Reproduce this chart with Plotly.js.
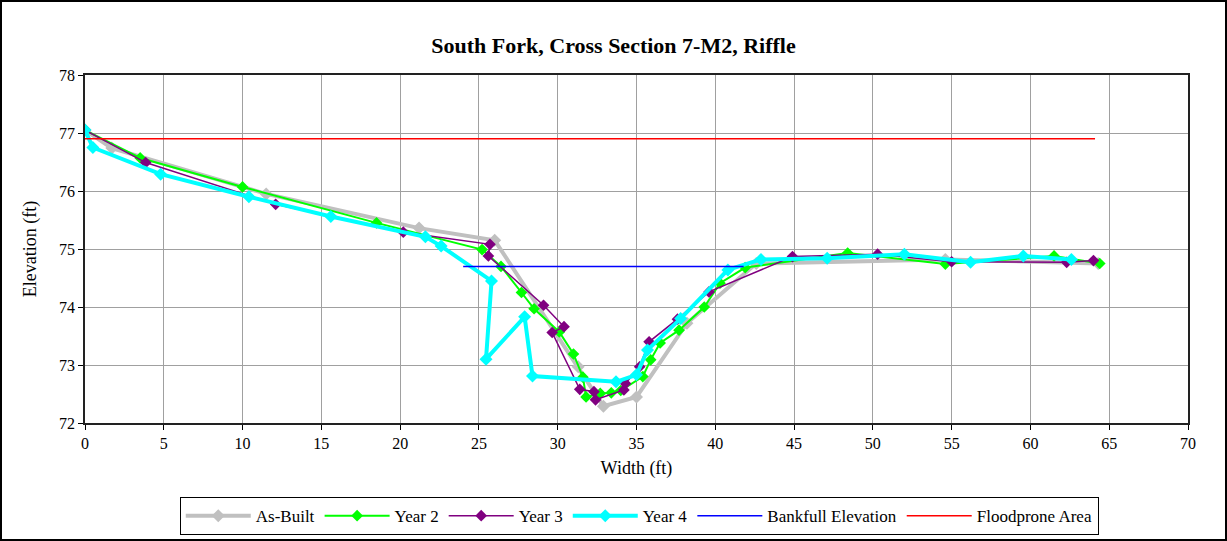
<!DOCTYPE html>
<html>
<head>
<meta charset="utf-8">
<script src="https://cdn.plot.ly/plotly-3.0.1.min.js"></script>
<style>
html,body{margin:0;padding:0;background:#fff;}
#chart{width:1227px;height:541px;outline:2px solid #000;outline-offset:-2px;}
</style>
</head>
<body>
<div id="chart"></div>
<script>
// Data
const asBuiltX = [0, 1.7, 11.5, 21.2, 26.0, 31.3, 32.9, 35.0, 38.2, 42.6, 54.6, 64.3];
const asBuiltY = [77.05, 76.74, 75.95, 75.36, 75.15, 72.97, 72.29, 72.45, 73.72, 74.75, 74.82, 74.75];

const year2X = [0, 3.5, 10.0, 18.5, 25.2, 26.4, 27.7, 28.5, 30.1, 31.0, 31.6, 31.8, 32.7, 33.4, 34.0, 35.4, 35.9, 36.5, 37.7, 39.3, 40.3, 41.9, 48.4, 54.6, 61.5, 64.4];
const year2Y = [77.05, 76.57, 76.07, 75.45, 74.99, 74.70, 74.25, 73.97, 73.57, 73.19, 72.79, 72.45, 72.51, 72.52, 72.56, 72.80, 73.09, 73.38, 73.60, 74.00, 74.41, 74.68, 74.93, 74.74, 74.88, 74.75];

const year3X = [0, 3.85, 12.1, 20.2, 25.7, 25.6, 29.1, 30.4, 29.65, 31.4, 32.3, 32.4, 34.2, 34.3, 35.2, 35.8, 37.6, 39.6, 44.9, 50.3, 55.0, 62.3, 64.0];
const year3Y = [77.05, 76.49, 75.77, 75.29, 75.08, 74.88, 74.03, 73.66, 73.56, 72.58, 72.54, 72.40, 72.57, 72.68, 72.97, 73.40, 73.79, 74.26, 74.87, 74.91, 74.78, 74.77, 74.80];

const year4X = [0, 0.5, 4.8, 10.4, 15.6, 21.6, 22.6, 25.8, 25.45, 27.9, 28.4, 33.7, 35.0, 35.7, 37.8, 40.8, 42.9, 47.1, 52.0, 56.2, 59.55, 62.6];
const year4Y = [77.05, 76.75, 76.29, 75.90, 75.56, 75.21, 75.05, 74.45, 73.10, 73.83, 72.81, 72.71, 72.83, 73.26, 73.80, 74.64, 74.82, 74.84, 74.91, 74.77, 74.88, 74.82];

const bankfullX = [24.0, 41.8];
const bankfullY = [74.7, 74.7];

const floodX = [0, 64.1];
const floodY = [76.9, 76.9];

const seriesNames = ["As-Built", "Year 2", "Year 3", "Year 4", "Bankfull Elevation", "Floodprone Area"];

const font = "'Liberation Serif', 'Times New Roman', serif";

const traces = [
  {x: asBuiltX, y: asBuiltY, name: seriesNames[0], mode: "lines+markers",
   line: {color: "#c0c0c0", width: 4}, marker: {symbol: "diamond", size: 10, color: "#c0c0c0"}},
  {x: year2X, y: year2Y, name: seriesNames[1], mode: "lines+markers",
   line: {color: "#00ff00", width: 2}, marker: {symbol: "diamond", size: 9, color: "#00ff00"}},
  {x: year3X, y: year3Y, name: seriesNames[2], mode: "lines+markers",
   line: {color: "#800080", width: 1.5}, marker: {symbol: "diamond", size: 9, color: "#800080"}},
  {x: year4X, y: year4Y, name: seriesNames[3], mode: "lines+markers",
   line: {color: "#00ffff", width: 4}, marker: {symbol: "diamond", size: 10, color: "#00ffff"}},
  {x: bankfullX, y: bankfullY, name: seriesNames[4], mode: "lines",
   line: {color: "#0000ff", width: 1.5}},
  {x: floodX, y: floodY, name: seriesNames[5], mode: "lines",
   line: {color: "#ff0000", width: 1.5}}
];

const layout = {
  width: 1227, height: 541,
  paper_bgcolor: "rgba(0,0,0,0)", plot_bgcolor: "#fff",
  margin: {l: 85, r: 39, t: 75, b: 118},
  font: {family: font, size: 16, color: "#000"},
  title: {text: "<b>South Fork, Cross Section 7-M2, Riffle</b>", font: {family: font, size: 22, color: "#000"},
          xref: "container", x: 0.5, xanchor: "center", yref: "container", y: 0.917, yanchor: "middle"},
  xaxis: {range: [0, 70], dtick: 5, tick0: 0, showgrid: true, gridcolor: "#a0a0a0", gridwidth: 1,
          zeroline: false, showline: true, linecolor: "#222", linewidth: 1.8, mirror: true,
          ticks: "outside", ticklen: 5, tickcolor: "#000", tickfont: {family: font, size: 16},
          title: {text: "Width (ft)", font: {family: font, size: 18}, standoff: 10}},
  yaxis: {range: [72, 78], dtick: 1, tick0: 72, showgrid: true, gridcolor: "#a0a0a0", gridwidth: 1,
          zeroline: false, showline: true, linecolor: "#222", linewidth: 1.8, mirror: true,
          ticks: "outside", ticklen: 5, tickcolor: "#000", tickfont: {family: font, size: 16},
          title: {text: "Elevation (ft)", font: {family: font, size: 18}, standoff: 18}},
  showlegend: true,
  legend: {orientation: "h", x: 0.521, xanchor: "center", xref: "container", y: 0.046, yref: "container", yanchor: "middle",
           bordercolor: "#000", borderwidth: 1, bgcolor: "#fff", font: {family: font, size: 17},
           itemwidth: 65, traceorder: "normal"}
};

Plotly.newPlot("chart", traces, layout, {displayModeBar: false, staticPlot: true});
</script>
</body>
</html>
